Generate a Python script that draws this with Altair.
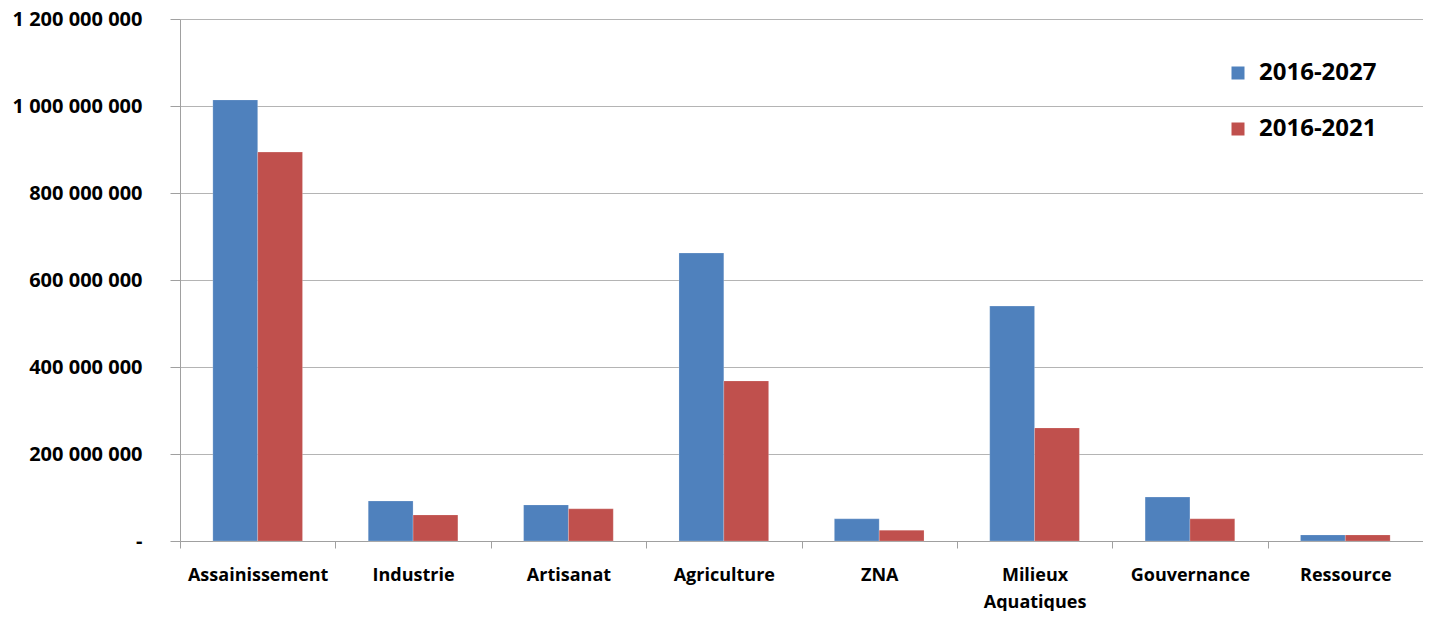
import altair as alt
import pandas as pd

categories = ["Assainissement", "Industrie", "Artisanat", "Agriculture", "ZNA",
              "Milieux Aquatiques", "Gouvernance", "Ressource"]
periods = ["2016-2027", "2016-2021"]
values_2016_2027 = [1014e6, 92e6, 83e6, 662e6, 51e6, 540e6, 101e6, 14e6]
values_2016_2021 = [894e6, 60e6, 74e6, 368e6, 25e6, 260e6, 51e6, 14e6]
y_ticks = [0, 200e6, 400e6, 600e6, 800e6, 1000e6, 1200e6]
colors = ["#4F81BD", "#C0504D"]

rows = []
for c, a, b in zip(categories, values_2016_2027, values_2016_2021):
    rows.append({"category": c, "period": periods[0], "value": a})
    rows.append({"category": c, "period": periods[1], "value": b})
df = pd.DataFrame(rows)

FONT = "Open Sans"

chart = alt.Chart(df).mark_bar(stroke="#ffffff", strokeWidth=0.5, strokeOpacity=0.4).encode(
    x=alt.X("category:N", sort=categories, title=None,
            scale=alt.Scale(paddingInner=0, paddingOuter=0),
            axis=alt.Axis(labelAngle=0, tickBand="extent", tickSize=7,
                          tickColor="#A0A0A0", domainColor="#A0A0A0",
                          labelFont=FONT, labelFontSize=18, labelFontWeight="bold",
                          labelColor="#000000", labelPadding=18, labelBaseline="top",
                          labelLineHeight=27,
                          labelExpr="datum.label == 'Milieux Aquatiques' ? ['Milieux', 'Aquatiques'] : datum.label")),
    xOffset=alt.XOffset("period:N", sort=periods,
                        scale=alt.Scale(domain=periods, paddingInner=0, paddingOuter=0.733)),
    y=alt.Y("value:Q", title=None,
            scale=alt.Scale(domain=[0, 1.2e9], nice=False),
            axis=alt.Axis(values=y_ticks, tickSize=10, tickColor="#A0A0A0",
                          domainColor="#A0A0A0", gridColor="#B4B4B4", grid=True,
                          labelFont=FONT, labelFontSize=20, labelFontWeight="bold",
                          labelColor="#000000", labelPadding=28,
                          labelExpr="datum.value == 0 ? '-' : replace(format(datum.value, ',d'), /,/g, ' ')")),
    color=alt.Color("period:N", sort=periods,
                    scale=alt.Scale(domain=periods, range=colors),
                    legend=alt.Legend(title=None, orient="none", legendX=1046, legendY=42,
                                      symbolType="square", symbolSize=169, symbolStrokeWidth=0,
                                      labelFont=FONT, labelFontSize=24, labelFontWeight="bold",
                                      labelColor="#000000", labelOffset=9, rowPadding=32,
                                      padding=0)),
).properties(
    width=1243, height=522,
    padding={"left": 172, "top": 11, "right": 0, "bottom": 70},
    autosize=alt.AutoSizeParams(type="none"),
).configure_view(strokeWidth=0)

chart.save("out.html", embed_options={"renderer": "svg", "actions": False})
